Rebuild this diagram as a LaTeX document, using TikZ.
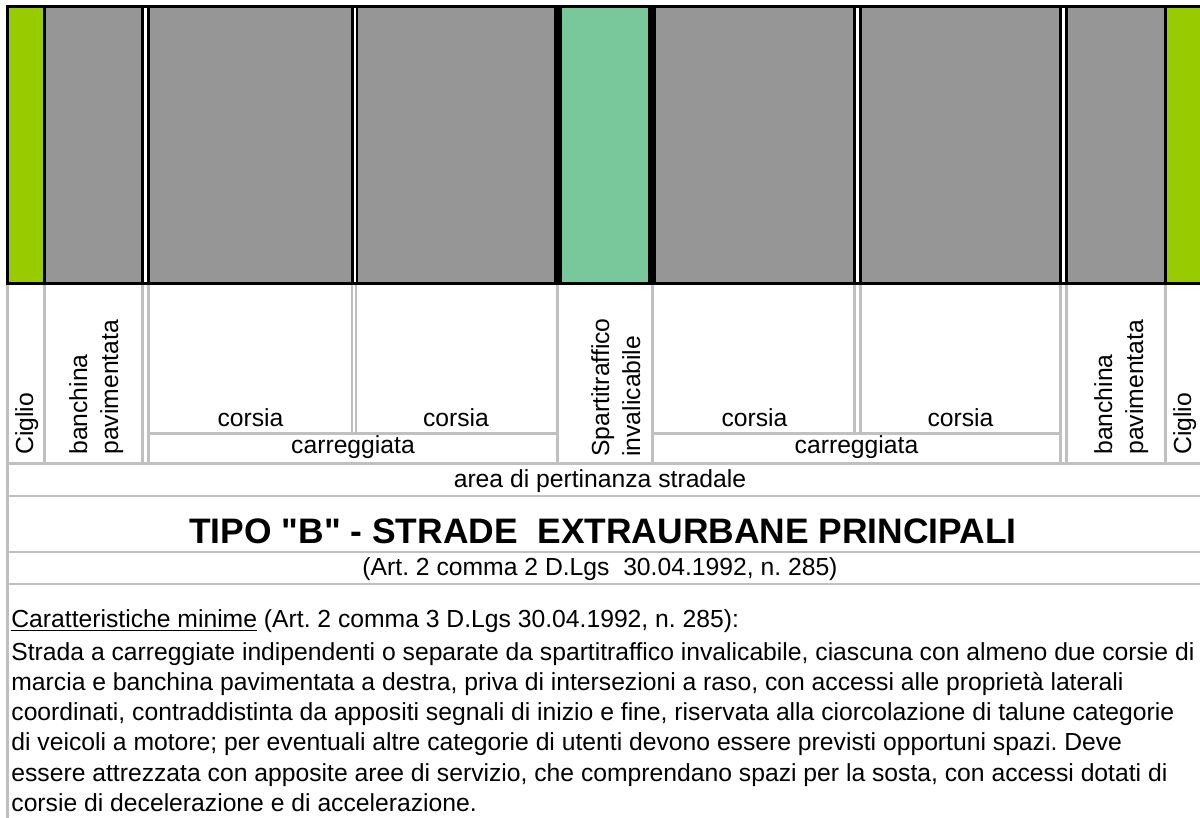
\documentclass[tikz,border=0pt]{standalone}
\usepackage{fontspec}
\setmainfont{Liberation Sans}[Ligatures=TeXOff]
\definecolor{lime}{RGB}{153,204,0}
\definecolor{road}{RGB}{150,150,150}
\definecolor{gridgray}{RGB}{192,192,192}
\definecolor{median}{RGB}{120,200,155}
\frenchspacing
\begin{document}
\frenchspacing
\begin{tikzpicture}[x=0.5pt,y=-0.5pt,
  lbl/.style={inner sep=0pt,font=\fontsize{12.35pt}{14pt}\selectfont},
  vlbl/.style={lbl,rotate=90,anchor=base west},
  hlbl/.style={lbl,anchor=base},
  txt/.style={lbl,anchor=base west},
  ttl/.style={inner sep=0pt,anchor=base,font=\fontsize{17.7pt}{20pt}\selectfont\bfseries},
  gridfill/.style={fill=gridgray},
  blk/.style={fill=black}]
\useasboundingbox (0,0) rectangle (1200,818);
\fill[white] (0,0) rectangle (1200,818);
% ---- coloured strips
\fill[lime]   (9,8)    rectangle (43,282);
\fill[road]   (46,8)   rectangle (141,282);
\fill[road]   (150,8)  rectangle (351,282);
\fill[road]   (358,8)  rectangle (554,282);
\fill[median] (562,8)  rectangle (648,282);
\fill[road]   (656,8)  rectangle (853,282);
\fill[road]   (862,8)  rectangle (1059,282);
\fill[road]   (1068,8) rectangle (1164,282);
\fill[lime]   (1167,8) rectangle (1200,282);
% ---- black outlines
\path[blk] (6,5) rectangle (1200,8);
\path[blk] (6,282) rectangle (1200,285);
\path[blk] (6,5) rectangle (9,285);
\path[blk] (43,8) rectangle (46,282);
\path[blk] (141,8) rectangle (144,282);
\path[blk] (147,8) rectangle (150,282);
\path[blk] (351,8) rectangle (353.5,282);
\path[blk] (355.5,8) rectangle (358,282);
\path[blk] (554,8) rectangle (562,282);
\path[blk] (648,8) rectangle (656,282);
\path[blk] (853,8) rectangle (856,282);
\path[blk] (859,8) rectangle (862,282);
\path[blk] (1059,8) rectangle (1062,282);
\path[blk] (1065,8) rectangle (1068,282);
\path[blk] (1164,8) rectangle (1167,282);
% ---- gray grid
\path[gridfill] (6,285) rectangle (9,818);
\path[gridfill] (43,285) rectangle (46,463);
\path[gridfill] (141,285) rectangle (144,463);
\path[gridfill] (147,285) rectangle (150,463);
\path[gridfill] (350.5,285) rectangle (353,433);
\path[gridfill] (354.5,285) rectangle (357,433);
\path[gridfill] (556,285) rectangle (559,463);
\path[gridfill] (651,285) rectangle (654,463);
\path[gridfill] (853,285) rectangle (856,433);
\path[gridfill] (858.5,285) rectangle (861.5,433);
\path[gridfill] (1059,285) rectangle (1062,463);
\path[gridfill] (1065,285) rectangle (1068,463);
\path[gridfill] (1164,285) rectangle (1167,463);
\path[gridfill] (150,432) rectangle (556,435);
\path[gridfill] (654,432) rectangle (1059,435);
\path[gridfill] (6,462) rectangle (1200,465);
\path[gridfill] (6,494.5) rectangle (1200,497);
\path[gridfill] (6,550.5) rectangle (1200,553);
\path[gridfill] (6,582.5) rectangle (1200,585);
% ---- vertical labels
\node[vlbl] (cig1) at (33,455) {Ciglio};
\node[vlbl] (ban1a) at (87,455) {banchina};
\node[vlbl] (ban1b) at (118,455) {pavimentata};
\node[vlbl] (spa1) at (609,457) {Spartitraffico};
\node[vlbl] (spa2) at (640,457) {invalicabile};
\node[vlbl] (ban2a) at (1112,455) {banchina};
\node[vlbl] (ban2b) at (1143,455) {pavimentata};
\node[vlbl] (cig2) at (1191,455) {Ciglio};
% ---- horizontal labels
\node[hlbl] (cor1) at (250.5,426) {corsia};
\node[hlbl] (cor2) at (456,426) {corsia};
\node[hlbl] (cor3) at (754.5,426) {corsia};
\node[hlbl] (cor4) at (960.5,426) {corsia};
\node[hlbl] (car1) at (353,453) {carreggiata};
\node[hlbl] (car2) at (856.5,453) {carreggiata};
\node[hlbl] (area) at (600,487) {area di pertinanza stradale};
\node[ttl] (title) at (603,543) {TIPO "B" - STRADE\ \ EXTRAURBANE PRINCIPALI};
\node[hlbl] (sub) at (600,575) {(Art. 2 comma 2 D.Lgs\ \ 30.04.1992, n. 285)};
% ---- description
\node[txt] (d0) at (11,627) {\underline{Caratteristiche minime} (Art. 2 comma 3 D.Lgs 30.04.1992, n. 285):};
\node[txt] (d1) at (11,660) {Strada a carreggiate indipendenti o separate da spartitraffico invalicabile, ciascuna con almeno due corsie di};
\node[txt] (d2) at (11,690) {marcia e banchina pavimentata a destra, priva di intersezioni a raso, con accessi alle proprietà laterali};
\node[txt] (d3) at (11,720.5) {coordinati, contraddistinta da appositi segnali di inizio e fine, riservata alla ciorcolazione di talune categorie};
\node[txt] (d4) at (11,750.5) {di veicoli a motore; per eventuali altre categorie di utenti devono essere previsti opportuni spazi. Deve};
\node[txt] (d5) at (11,781) {essere attrezzata con apposite aree di servizio, che comprendano spazi per la sosta, con accessi dotati di};
\node[txt] (d6) at (11,811) {corsie di decelerazione e di accelerazione.};
\end{tikzpicture}
\end{document}
